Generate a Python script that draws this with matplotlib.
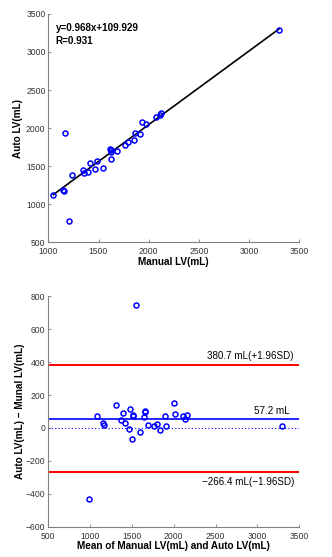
import matplotlib
matplotlib.use("Agg")
import matplotlib.pyplot as plt
import numpy as np

# ---- Data: correlation panel ----
manual_lv = [1050, 1150, 1160, 1205, 1170, 1240, 1350, 1360, 1400, 1420, 1470, 1485,
             1540, 1610, 1620, 1620, 1620, 1680, 1765, 1790, 1850, 1860, 1910, 1930,
             1977, 2077, 2110, 2120, 3300]
auto_lv = [1120, 1182, 1175, 780, 1930, 1390, 1450, 1405, 1430, 1545, 1460, 1565,
           1478, 1720, 1715, 1690, 1590, 1700, 1777, 1815, 1838, 1930, 1920, 2077,
           2060, 2150, 2175, 2195, 3290]
slope = 0.968
intercept = 109.929
r_value = 0.931

# ---- Data: Bland-Altman panel ----
ba_mean = [1078, 1157, 1162, 1309, 1372, 1393, 1413, 1461, 1480, 1504, 1516, 1516,
           1600, 1647, 1659, 1659, 1688, 1767, 1799, 1838, 1891, 1910, 2002, 2018,
           2113, 2137, 2154, 1545, 985, 3295]
ba_diff = [73, 28, 16, 142, 49, 93, 28, -8, 115, -65, 79, 71,
           -24, 65, 105, 99, 18, 10, 26, -10, 73, 14, 152, 83,
           73, 57, 79, 747, -433, 10]
mean_diff = 57.2
upper_loa = 380.7
lower_loa = -266.4

top_xticks = [1000, 1500, 2000, 2500, 3000, 3500]
top_yticks = [500, 1000, 1500, 2000, 2500, 3000, 3500]
bot_xticks = [500, 1000, 1500, 2000, 2500, 3000, 3500]
bot_yticks = [-600, -400, -200, 0, 200, 400, 600, 800]

FONT = "Liberation Sans"
tick_color = "#333333"

fig = plt.figure(figsize=(3.32, 5.57), dpi=100)
ax1 = fig.add_axes([0.1455, 0.565, 0.756, 0.41])
ax2 = fig.add_axes([0.1455, 0.0544, 0.756, 0.4137])


def style(ax):
    for s in ["top", "right"]:
        ax.spines[s].set_visible(False)
    for s in ["left", "bottom"]:
        ax.spines[s].set_color("#808080")
        ax.spines[s].set_linewidth(0.8)
    ax.tick_params(direction="in", length=2.5, width=0.6, colors="#808080",
                   labelcolor=tick_color, labelsize=6.2, pad=2)
    ax.tick_params(axis="x", pad=3.5)
    for lab in ax.get_xticklabels() + ax.get_yticklabels():
        lab.set_fontfamily(FONT)


# Top panel
xs = np.array([min(manual_lv), max(manual_lv)])
ax1.plot(xs, slope * xs + intercept, color="black", lw=1.2, zorder=2)
ax1.plot(manual_lv, auto_lv, linestyle="none", marker="o", markersize=3.6,
         markerfacecolor="none", markeredgecolor="blue", markeredgewidth=1.1, zorder=3)
ax1.set_xlim(1000, 3500)
ax1.set_ylim(500, 3500)
ax1.set_xticks(top_xticks)
ax1.set_yticks(top_yticks)
style(ax1)
ax1.set_xlabel("Manual LV(mL)", fontsize=7.2, fontweight="bold", family=FONT, labelpad=0.5)
ax1.set_ylabel("Auto LV(mL)", fontsize=7.2, fontweight="bold", family=FONT, labelpad=2)
ax1.text(1074, 3311, f"y={slope:.3f}x+{intercept:.3f}", fontsize=7.1, fontweight="bold",
         family=FONT, ha="left", va="center")
ax1.text(1074, 3145, f"R={r_value:.3f}", fontsize=7.1, fontweight="bold",
         family=FONT, ha="left", va="center")

# Bottom panel
ax2.axhline(upper_loa, color="red", lw=1.4, zorder=2)
ax2.axhline(lower_loa, color="red", lw=1.4, zorder=2)
ax2.axhline(mean_diff, color="blue", lw=1.2, zorder=2)
ax2.axhline(0, color="blue", lw=0.8, linestyle=(0, (1, 2)), zorder=2)
ax2.plot(ba_mean, ba_diff, linestyle="none", marker="o", markersize=3.6,
         markerfacecolor="none", markeredgecolor="blue", markeredgewidth=1.1, zorder=3)
ax2.set_xlim(500, 3500)
ax2.set_ylim(-600, 800)
ax2.set_xticks(bot_xticks)
ax2.set_yticks(bot_yticks)
style(ax2)
ax2.set_yticklabels([("\u2212" + str(-v)) if v < 0 else str(v) for v in bot_yticks],
                    family=FONT)
ax2.set_xlabel("Mean of Manual LV(mL) and Auto LV(mL)", fontsize=7.2, fontweight="bold",
               family=FONT, labelpad=0.5)
ax2.set_ylabel("Auto LV(mL) \u2212 Munal LV(mL)", fontsize=7.2, fontweight="bold",
               family=FONT, labelpad=1)
ax2.text(3436, 437, f"{upper_loa:.1f} mL(+1.96SD)", fontsize=7.1, family=FONT,
         ha="right", va="center")
ax2.text(3380, 103, f"{mean_diff:.1f} mL", fontsize=7.1, family=FONT,
         ha="right", va="center")
ax2.text(3444, -330, f"\u2212{-lower_loa:.1f} mL(\u22121.96SD)", fontsize=7.1, family=FONT,
         ha="right", va="center")

fig.savefig("out.png", dpi=100)
